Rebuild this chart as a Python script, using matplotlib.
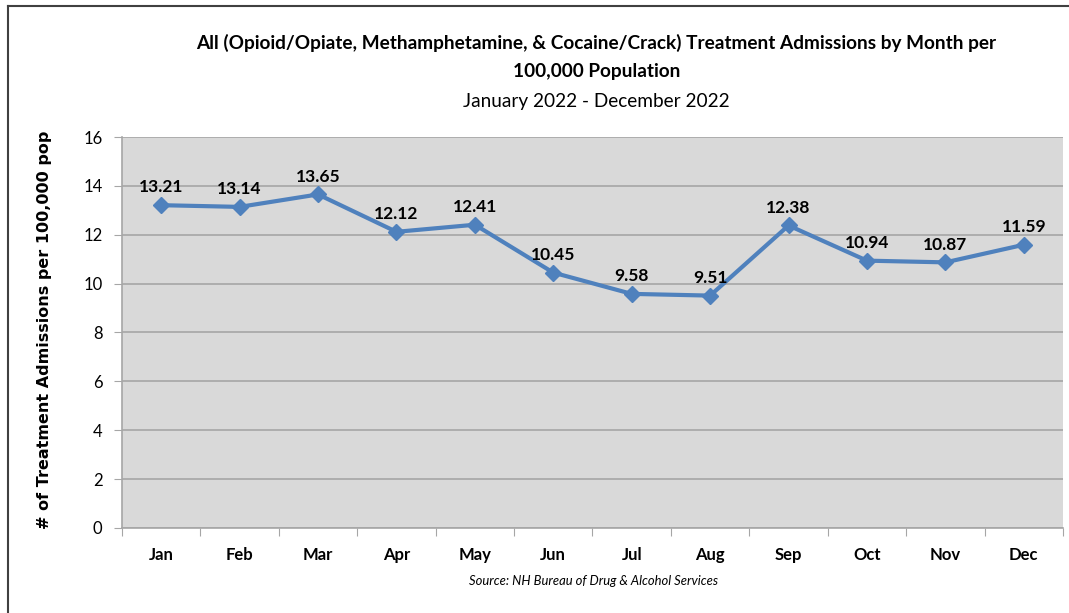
import matplotlib.pyplot as plt
from matplotlib.lines import Line2D

# monthly admissions per 100,000 population, 2022
months = ["Jan", "Feb", "Mar", "Apr", "May", "Jun", "Jul", "Aug", "Sep", "Oct", "Nov", "Dec"]
rates = [13.21, 13.14, 13.65, 12.12, 12.41, 10.45, 9.58, 9.51, 12.38, 10.94, 10.87, 11.59]
y_ticks = [0, 2, 4, 6, 8, 10, 12, 14, 16]

plt.rcParams['font.family'] = ['Lato', 'DejaVu Sans']

fig = plt.figure(figsize=(10.69, 6.13), dpi=100)
ax = fig.add_axes([0.1141, 0.1387, 0.8803, 0.6378])

x = list(range(len(months)))
ax.plot(x, rates, color="#4F81BD", linewidth=3, marker="D", markersize=8,
        markerfacecolor="#4F81BD", markeredgecolor="#4F81BD", zorder=3)

# value labels above each point
for xi, v in zip(x, rates):
    ax.annotate(f"{v:.2f}", (xi, v), xytext=(0, 7), textcoords="offset points",
                ha="center", va="bottom", fontsize=12.5, fontweight="bold", color="black")

# chart format
ax.set_facecolor("#D9D9D9")
ax.set_xlim(-0.5, 11.5)
ax.set_ylim(0, 16)
ax.set_yticks(y_ticks)
ax.set_yticklabels([str(t) for t in y_ticks], fontsize=12)
ax.grid(axis="y", color="#A6A6A6", linewidth=1.2)
ax.set_axisbelow(True)

ax.set_xticks([i - 0.5 for i in range(len(months) + 1)])
ax.set_xticklabels([])
ax.set_xticks(x, minor=True)
ax.set_xticklabels(months, minor=True, fontsize=12, fontweight="bold")
ax.tick_params(axis="x", which="minor", length=0, pad=14)
ax.tick_params(axis="x", which="major", length=6, color="#A6A6A6", direction="out")
ax.tick_params(axis="y", length=6, color="#A6A6A6", direction="out", pad=8)

for side in ["top", "right"]:
    ax.spines[side].set_visible(False)
for side in ["left", "bottom"]:
    ax.spines[side].set_color("#A6A6A6")
    ax.spines[side].set_linewidth(1.2)

# titles
fig.text(0.558, 0.930, "All (Opioid/Opiate, Methamphetamine, & Cocaine/Crack) Treatment Admissions by Month per",
         ha="center", va="center", fontsize=13.7, fontweight="bold")
fig.text(0.558, 0.883, "100,000 Population", ha="center", va="center", fontsize=13.7, fontweight="bold")
fig.text(0.558, 0.835, "January 2022 - December 2022", ha="center", va="center", fontsize=13.7)

fig.text(0.042, 0.462, "# of Treatment Admissions per 100,000 pop", rotation=90,
         ha="center", va="center", fontsize=11.5, fontweight="bold", family="DejaVu Sans")

fig.text(0.555, 0.053, "Source: NH Bureau of Drug & Alcohol Services", ha="center", va="center",
         fontsize=9.4, style="italic")

# outer frame (left and top edges)
fig.add_artist(Line2D([0.0075, 0.0075], [0.0, 0.991], color="#404040", linewidth=1.5,
                      transform=fig.transFigure))
fig.add_artist(Line2D([0.0075, 1.0], [0.991, 0.991], color="#404040", linewidth=1.5,
                      transform=fig.transFigure))

fig.savefig("out.png", dpi=100)
